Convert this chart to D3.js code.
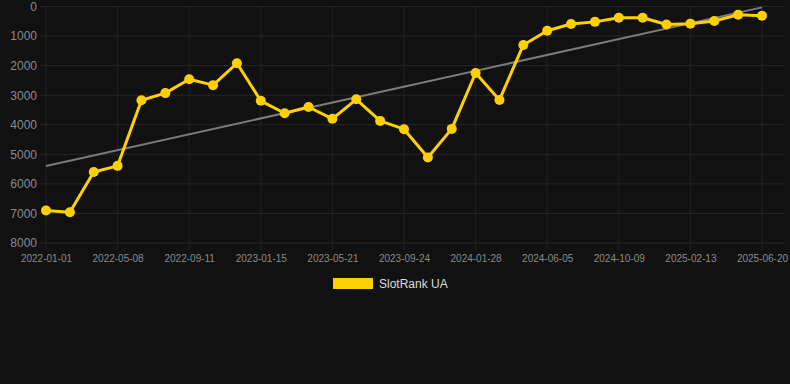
<!DOCTYPE html>
<html>
<head>
<meta charset="utf-8">
<script src="https://cdn.jsdelivr.net/npm/d3@7"></script>
<style>
  html, body { margin: 0; padding: 0; background: #111111; }
  svg { display: block; font-family: "Liberation Sans", Arial, sans-serif; }
</style>
</head>
<body>
<svg width="790" height="384"></svg>
<script>
// dates of each point (labels shown on every third one)
var dates = [
  "2022-01-01", "2022-02-12", "2022-03-26", "2022-05-08", "2022-06-19", "2022-07-31",
  "2022-09-11", "2022-10-23", "2022-12-04", "2023-01-15", "2023-02-26", "2023-04-09",
  "2023-05-21", "2023-07-02", "2023-08-13", "2023-09-24", "2023-11-05", "2023-12-17",
  "2024-01-28", "2024-03-10", "2024-04-23", "2024-06-05", "2024-07-17", "2024-08-28",
  "2024-10-09", "2024-11-20", "2025-01-01", "2025-02-13", "2025-03-27", "2025-05-08",
  "2025-06-20"
];
var ranks = [
  6900, 6960, 5600, 5390, 3170, 2930, 2460, 2660, 1920, 3190, 3610, 3400,
  3800, 3140, 3870, 4150, 5110, 4140, 2250, 3160, 1300, 820, 590, 520,
  380, 380, 610, 580, 490, 280, 310
];
var yTicks = [0, 1000, 2000, 3000, 4000, 5000, 6000, 7000, 8000];
var seriesName = "SlotRank UA";
var lineColor = "#ffd000";

var svg = d3.select("svg");
var plot = { left: 40, right: 785, top: 6.5, bottom: 243 };

var x = d3.scalePoint().domain(dates).range([46, 762]);
var y = d3.scaleLinear().domain([0, 8000]).range([plot.top, plot.bottom]);

// grid
svg.append("g")
  .selectAll("line")
  .data(yTicks)
  .join("line")
  .attr("x1", plot.left).attr("x2", plot.right)
  .attr("y1", d => y(d)).attr("y2", d => y(d))
  .attr("stroke", "#262626").attr("stroke-width", 1);

var labelled = dates.filter((d, i) => i % 3 == 0);
svg.append("g")
  .selectAll("line")
  .data(labelled)
  .join("line")
  .attr("x1", d => x(d)).attr("x2", d => x(d))
  .attr("y1", plot.top).attr("y2", plot.bottom + 7)
  .attr("stroke", "#222222").attr("stroke-width", 1);

// axes
var yAxis = svg.append("g")
  .attr("transform", "translate(" + plot.left + ",0)")
  .call(d3.axisLeft(y).tickValues(yTicks).tickSize(0).tickPadding(3).tickFormat(d3.format("d")));
yAxis.select(".domain").remove();
yAxis.selectAll("text").attr("fill", "#8a8a8a").attr("font-size", 12);

var xAxis = svg.append("g")
  .attr("transform", "translate(0," + plot.bottom + ")")
  .call(d3.axisBottom(x).tickValues(labelled).tickSize(0).tickPadding(12));
xAxis.select(".domain").remove();
xAxis.selectAll("text").attr("fill", "#8a8a8a").attr("font-size", 10);

// trend line (least squares on index)
var n = ranks.length;
var mx = d3.mean(ranks, (d, i) => i);
var my = d3.mean(ranks);
var slope = d3.sum(ranks, (d, i) => (i - mx) * (d - my)) / d3.sum(ranks, (d, i) => (i - mx) * (i - mx));
var icpt = my - slope * mx;
svg.append("line")
  .attr("x1", x(dates[0])).attr("y1", y(icpt))
  .attr("x2", x(dates[n - 1])).attr("y2", y(icpt + slope * (n - 1)))
  .attr("stroke", "#7a7a7a").attr("stroke-width", 2);

// series
var line = d3.line()
  .x((d, i) => x(dates[i]))
  .y(d => y(d));
svg.append("path")
  .datum(ranks)
  .attr("d", line)
  .attr("fill", "none")
  .attr("stroke", lineColor)
  .attr("stroke-width", 3)
  .attr("stroke-linejoin", "round");

svg.append("g")
  .selectAll("circle")
  .data(ranks)
  .join("circle")
  .attr("cx", (d, i) => x(dates[i]))
  .attr("cy", d => y(d))
  .attr("r", 5)
  .attr("fill", lineColor);

// legend
var legend = svg.append("g").attr("transform", "translate(333,278)");
legend.append("rect")
  .attr("width", 40).attr("height", 11)
  .attr("fill", lineColor);
legend.append("text")
  .attr("x", 46).attr("y", 10)
  .attr("fill", "#dddddd").attr("font-size", 12)
  .text(seriesName);
</script>
</body>
</html>
